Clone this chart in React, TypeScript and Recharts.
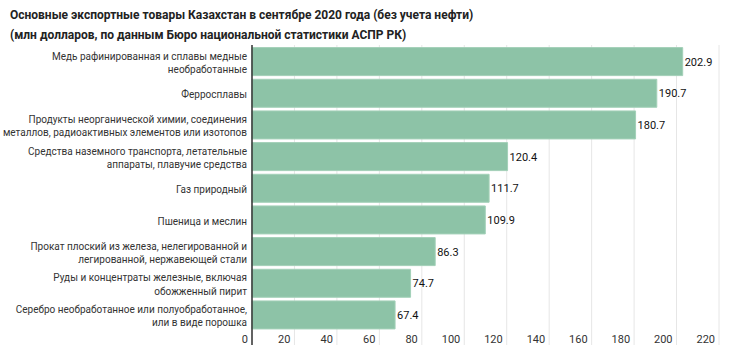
import { BarChart, Bar, XAxis, YAxis, CartesianGrid, LabelList } from "recharts";

const categories = [
  "Медь рафинированная и сплавы медные\nнеобработанные",
  "Ферросплавы",
  "Продукты неорганической химии, соединения\nметаллов, радиоактивных элементов или изотопов",
  "Средства наземного транспорта, летательные\nаппараты, плавучие средства",
  "Газ природный",
  "Пшеница и меслин",
  "Прокат плоский из железа, нелегированной и\nлегированной, нержавеющей стали",
  "Руды и концентраты железные, включая\nобожженный пирит",
  "Серебро необработанное или полуобработанное,\nили в виде порошка",
];
const values = [202.9, 190.7, 180.7, 120.4, 111.7, 109.9, 86.3, 74.7, 67.4];
const xTicks = [0, 20, 40, 60, 80, 100, 120, 140, 160, 180, 200, 220];

const data = categories.map((name, i) => ({ name, value: values[i] }));

const font = "Roboto, sans-serif";

function CategoryTick(props: any) {
  const { x, y, payload } = props;
  const lines = String(payload.value).split("\n");
  return (
    <text x={x + 3} y={y} textAnchor="end" fontSize={10} fill="#333" fontFamily={font}>
      {lines.map((l, i) => (
        <tspan key={i} x={x + 3} y={y + (i - (lines.length - 1) / 2) * 13.5 + 4.5}>
          {l}
        </tspan>
      ))}
    </text>
  );
}

function ValueTick(props: any) {
  const { x, y, payload } = props;
  return (
    <text x={x - 4} y={y - 10} textAnchor="end" fontSize={11} fill="#333" fontFamily={font}>
      {payload.value}
    </text>
  );
}

export default function App() {
  return (
    <div style={{ position: "absolute", left: 0, top: 0, width: 730, height: 357, background: "#fff", fontFamily: font }}>
      <div style={{ position: "absolute", left: 10, top: 5, fontSize: 12, fontWeight: 700, lineHeight: "20px", color: "#222" }}>
        Основные экспортные товары Казахстан в сентябре 2020 года (без учета нефти)
        <br />
        (млн долларов, по данным Бюро национальной статистики АСПР РК)
      </div>
      <div style={{ position: "absolute", left: 0, top: 0 }}>
        <BarChart
          width={730}
          height={357}
          data={data}
          layout="vertical"
          margin={{ top: 45, right: 11, bottom: 11, left: 0 }}
          barCategoryGap={1.6}
        >
          <CartesianGrid horizontal={false} stroke="#e6e6e6" strokeWidth={1} />
          <XAxis
            type="number"
            domain={[0, 220]}
            ticks={xTicks}
            axisLine={false}
            tickLine={false}
            height={1}
            tick={<ValueTick />}
            interval={0}
          />
          <YAxis
            type="category"
            dataKey="name"
            width={252}
            axisLine={{ stroke: "#333", strokeWidth: 1.5 }}
            tickLine={false}
            tick={<CategoryTick />}
            interval={0}
            padding={{ top: 1, bottom: 14 }}
          />
          <Bar dataKey="value" fill="#8dc3a7" stroke="#a3d0b8" strokeWidth={1} isAnimationActive={false}>
            <LabelList dataKey="value" position="right" offset={2} fontSize={11} fill="#111" fontFamily={font} />
          </Bar>
        </BarChart>
      </div>
    </div>
  );
}
